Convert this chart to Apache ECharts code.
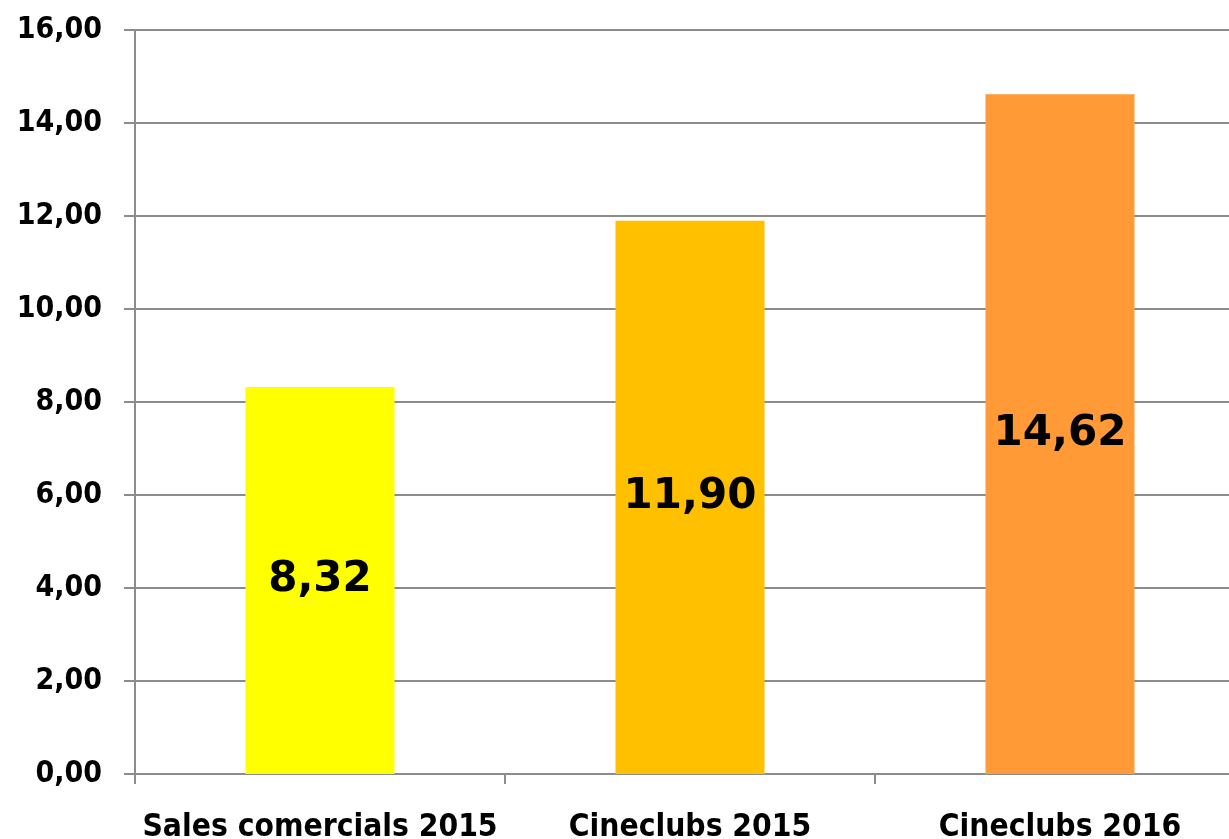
<!DOCTYPE html>
<html>
<head>
<meta charset="utf-8">
<script src="https://cdn.jsdelivr.net/npm/echarts@6/dist/echarts.min.js"></script>
<style>html,body{margin:0;padding:0;background:#fff;}#c{width:1229px;height:839px;}</style>
</head>
<body>
<div id="c"></div>
<script>
var categories = ['Sales comercials 2015', 'Cineclubs 2015', 'Cineclubs 2016'];
var values = [8.32, 11.90, 14.62];
var barColors = ['#FFFF00', '#FFC000', '#FF9A36'];
var yTicks = { min: 0, max: 16, interval: 2 };

function fmt(v) { return v.toFixed(2).replace('.', ','); }

var chart = echarts.init(document.getElementById('c'));
chart.setOption({
  animation: false,
  backgroundColor: '#fff',
  grid: { left: 135, width: 1110, top: 30, bottom: 65, containLabel: false, outerBoundsMode: 'none' },
  xAxis: {
    type: 'category',
    data: categories,
    axisLine: { lineStyle: { color: '#8c8c8c', width: 2 } },
    axisTick: { show: true, interval: 0, length: 10, lineStyle: { color: '#8c8c8c', width: 2 } },
    axisLabel: {
      interval: 0,
      margin: 38,
      color: '#000',
      fontFamily: '"DejaVu Sans Condensed", "DejaVu Sans", sans-serif',
      fontWeight: 'bold',
      fontSize: 31.5
    }
  },
  yAxis: {
    type: 'value',
    min: yTicks.min, max: yTicks.max, interval: yTicks.interval,
    axisLine: { show: true, lineStyle: { color: '#8c8c8c', width: 2 } },
    axisTick: { show: true, length: 11, lineStyle: { color: '#8c8c8c', width: 2 } },
    splitLine: { lineStyle: { color: '#8c8c8c', width: 2 } },
    axisLabel: {
      margin: 33,
      color: '#000',
      fontFamily: '"DejaVu Sans Condensed", "DejaVu Sans", sans-serif',
      fontWeight: 'bold',
      fontSize: 30,
      formatter: function (v) { return fmt(v); }
    }
  },
  series: [{
    type: 'bar',
    barWidth: 149,
    data: values.map(function (v, i) { return { value: v, itemStyle: { color: barColors[i] } }; }),
    label: {
      show: true,
      position: 'inside',
      color: '#000',
      fontFamily: '"DejaVu Sans", sans-serif',
      fontWeight: 'bold',
      fontSize: 42,
      formatter: function (p) { return fmt(p.value); }
    }
  }]
});
</script>
</body>
</html>
